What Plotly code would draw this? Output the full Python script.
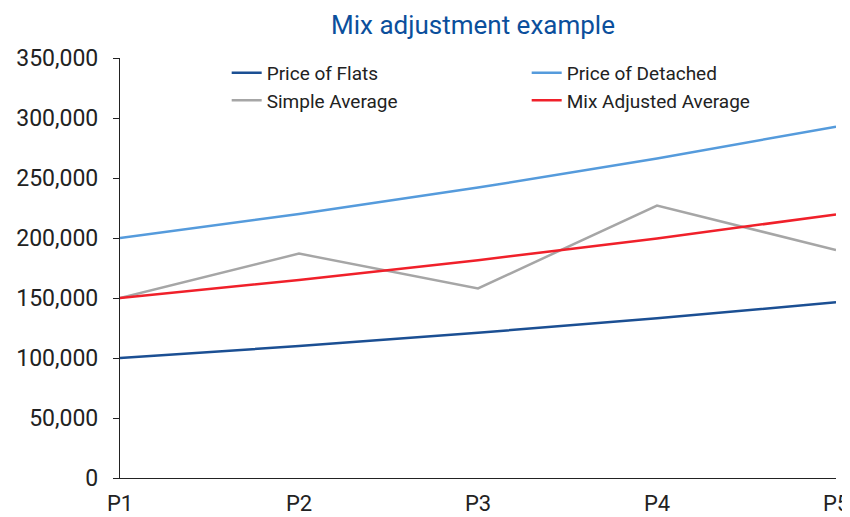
import plotly.graph_objects as go

periods = ["P1", "P2", "P3", "P4", "P5"]
price_flats = [100000, 110000, 121000, 133100, 146410]
price_detached = [200000, 220000, 242000, 266200, 292820]
simple_average = [150000, 187000, 158000, 227000, 190000]
mix_adjusted = [150000, 165000, 181500, 199650, 219615]

FONT = "Roboto, sans-serif"
W, H = 842, 509  # page body has an 8px margin

fig = go.Figure()
series = [
    ("Price of Flats", price_flats, "#1b4f93"),
    ("Price of Detached", price_detached, "#559bdc"),
    ("Simple Average", simple_average, "#a6a6a6"),
    ("Mix Adjusted Average", mix_adjusted, "#f0202a"),
]
for name, vals, col in series:
    fig.add_trace(go.Scatter(x=periods, y=vals, name=name, mode="lines",
                             line=dict(color=col, width=2.5)))

fig.update_layout(
    width=W, height=H,
    paper_bgcolor="white", plot_bgcolor="white",
    margin=dict(l=112, r=14, t=50, b=39),
    font=dict(family=FONT, size=23, color="#222222"),
    title=dict(text="Mix adjustment example", x=465 / W, xanchor="center",
               y=1 - 17 / H, yref="container", yanchor="middle",
               font=dict(family=FONT, size=26, color="#0b4f9c")),
    showlegend=True,
    legend=dict(orientation="h", x=0.149, y=1.01, xanchor="left", yanchor="top",
                entrywidth=255, entrywidthmode="pixels", tracegroupgap=0,
                font=dict(family=FONT, size=19, color="#222222"),
                bgcolor="rgba(0,0,0,0)"),
)
fig.update_xaxes(type="category", range=[0, 4], showline=True, linecolor="#222222", linewidth=1.2,
                 showgrid=False, ticks="", ticklabelstandoff=5, zeroline=False, automargin=False,
                 tickfont=dict(size=22))
fig.update_yaxes(range=[0, 350000], dtick=50000, tickformat=",", showline=True, linecolor="#222222",
                 linewidth=1.2, showgrid=False, ticks="outside", ticklen=6, tickcolor="#222222",
                 ticklabelstandoff=10, zeroline=False, automargin=False)

fig.write_html("out.html")
